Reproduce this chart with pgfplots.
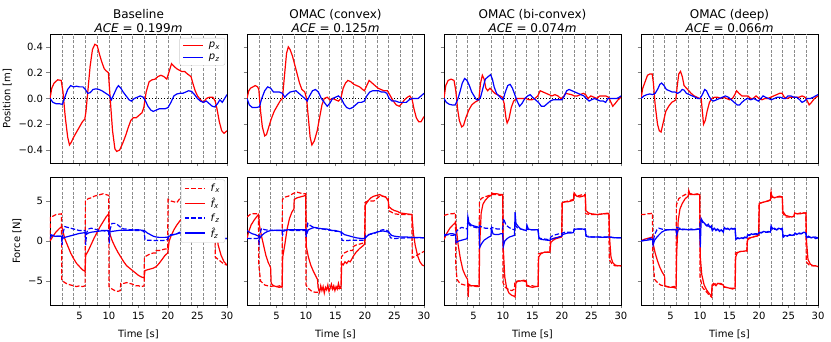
\documentclass[border=0pt]{standalone}
\usepackage{fontspec}
\setmainfont{DejaVu Sans}
\usepackage{pgfplots}
\pgfplotsset{compat=1.18}

\definecolor{mplred}{rgb}{1,0,0}
\definecolor{mplblue}{rgb}{0,0,1}

\pgfplotsset{
  legend image code/.code={\draw[#1] (0pt,0pt) -- (20pt,0pt);},
  panel/.style={
    scale only axis, width=177pt, xmin=0, xmax=30,
    xtick={5,10,15,20,25,30},
    tick align=outside, xtick pos=bottom, ytick pos=left,
    major tick length=3.5pt,
    tick style={line width=0.6pt},
    axis line style={black, line width=0.6pt},
    extra x ticks={2,4,...,28}, extra x tick labels={},
    extra x tick style={grid=major, major tick length=0pt,
      major grid style={black!45, line width=0.4pt, dash pattern=on 3pt off 1.6pt}},
    ticklabel style={font=\fontsize{10}{12}\selectfont},
    label style={font=\fontsize{10}{12}\selectfont},
    title style={font=\fontsize{12}{14}\selectfont, align=center, yshift=-8pt},
    every axis plot/.append style={line width=1.2pt},
    legend style={draw=black!20, rounded corners=2pt, fill=white,
      font=\fontsize{10}{12}\selectfont, inner xsep=3pt, inner ysep=2pt,
      row sep=1pt, column sep=3pt, cells={anchor=west},
      at={(0.99,0.97)}, anchor=north east},
  },
  pos/.style={panel, height=129pt, ymin=-0.5, ymax=0.5,
    ytick={-0.4,-0.2,0,0.2,0.4}, xticklabels={}},
  frc/.style={panel, height=128pt, ymin=-8, ymax=8, ytick={-5,0,5},
    xticklabels={5,10,15,20,25,30}, xlabel={Time [s]}},
  zl/.style={black, line width=1pt, dash pattern=on 1.2pt off 1.8pt, forget plot},
  fd/.style={dash pattern=on 4.5pt off 2pt},
}

\begin{document}
\begin{tikzpicture}
\useasboundingbox (0,0) rectangle (831pt,342pt);

% ---------------- top row: position ----------------
\begin{axis}[pos, at={(50pt,179pt)}, ylabel={Position [m]},
  yticklabels={−0.4,−0.2,0.0,0.2,0.4},
  title={Baseline\\\textit{ACE} = 0.199\textit{m}}]
\addlegendimage{mplred, line width=1.4pt}
\addlegendimage{mplblue, line width=1.4pt}
\legend{\textit{p}\textsubscript{\textit{x}}, \textit{p}\textsubscript{\textit{z}}}
\addplot[zl] coordinates {(0,0) (30,0)};
\addplot[mplred, forget plot] coordinates {(0,0) (0.3,0.08) (0.7,0.12) (1.3,0.145) (1.9,0.14) (2.2,0.05) (2.6,-0.15) (3.0,-0.3) (3.3,-0.36) (3.6,-0.34) (4.0,-0.3) (4.5,-0.26) (5.0,-0.22) (5.5,-0.18) (5.9,-0.16) (6.1,-0.1) (6.4,0.05) (6.8,0.25) (7.2,0.38) (7.6,0.42) (8.0,0.41) (8.4,0.34) (8.8,0.28) (9.2,0.23) (9.5,0.215) (9.9,0.2) (10.2,0.0) (10.6,-0.25) (11.0,-0.39) (11.3,-0.41) (11.8,-0.4) (12.3,-0.35) (12.8,-0.29) (13.3,-0.22) (13.7,-0.17) (14.1,-0.15) (14.6,-0.15) (15.1,-0.13) (15.6,-0.11) (15.9,-0.07) (16.3,0.05) (16.8,0.13) (17.3,0.145) (17.8,0.15) (18.3,0.17) (18.8,0.18) (19.3,0.17) (19.8,0.15) (20.2,0.21) (20.6,0.27) (21.0,0.25) (21.5,0.23) (21.9,0.22) (22.3,0.21) (22.8,0.21) (23.3,0.19) (23.9,0.17) (24.2,0.12) (24.6,0.06) (25.0,0.02) (25.5,-0.01) (26.0,-0.03) (26.5,0.0) (27.0,0.01) (27.6,0.01) (28.0,-0.02) (28.3,-0.08) (28.7,-0.18) (29.1,-0.25) (29.5,-0.27) (30,-0.25)};
\addplot[mplblue, forget plot] coordinates {(0,0) (0.5,-0.03) (1,-0.04) (1.5,-0.04) (2.1,-0.045) (2.6,0.02) (3.0,0.07) (3.5,0.1) (4.0,0.09) (4.5,0.095) (5.0,0.09) (5.6,0.09) (6.0,0.07) (6.4,0.04) (6.8,0.045) (7.3,0.07) (7.8,0.075) (8.3,0.07) (8.8,0.06) (9.3,0.045) (9.8,0.03) (10.1,0.02) (10.4,-0.01) (10.8,0.03) (11.3,0.08) (11.6,0.1) (12.0,0.08) (12.4,0.05) (12.9,0.02) (13.4,-0.01) (13.8,-0.02) (14.3,0.0) (14.8,0.01) (15.3,0.02) (15.8,0.01) (16.2,-0.02) (16.6,-0.06) (17.1,-0.09) (17.5,-0.1) (18.0,-0.09) (18.5,-0.08) (19.0,-0.08) (19.5,-0.08) (20.0,-0.07) (20.5,-0.03) (21.0,0.02) (21.5,0.035) (22.0,0.04) (22.5,0.04) (23.0,0.05) (23.5,0.06) (24.0,0.055) (24.5,0.03) (25.0,0.0) (25.5,-0.02) (26.0,-0.03) (26.5,-0.02) (27.0,-0.04) (27.5,-0.06) (27.9,-0.065) (28.4,-0.04) (28.8,-0.01) (29.2,-0.03) (29.6,0.0) (30,0.03)};
\end{axis}

\begin{axis}[pos, at={(247pt,179pt)}, yticklabels={},
  title={OMAC (convex)\\\textit{ACE} = 0.125\textit{m}}]
\addplot[zl] coordinates {(0,0) (30,0)};
\addplot[mplred] coordinates {(0,0) (0.3,0.06) (0.6,0.08) (1.0,0.09) (1.4,0.1) (1.8,0.09) (2.0,0.07) (2.3,-0.1) (2.6,-0.22) (3.0,-0.29) (3.3,-0.28) (3.7,-0.22) (4.1,-0.16) (4.6,-0.1) (5.1,-0.06) (5.6,-0.02) (6.0,0.0) (6.3,0.15) (6.7,0.35) (7.0,0.4) (7.3,0.38) (7.7,0.33) (8.1,0.26) (8.5,0.19) (8.9,0.12) (9.3,0.07) (9.8,0.05) (10.1,0.0) (10.4,-0.15) (10.7,-0.3) (11.0,-0.36) (11.4,-0.33) (11.9,-0.25) (12.3,-0.15) (12.7,-0.05) (13.1,0.0) (13.6,0.01) (14.0,-0.01) (14.5,0.0) (15.0,-0.01) (15.5,-0.02) (15.9,0.0) (16.3,0.08) (16.7,0.12) (17.1,0.14) (17.6,0.13) (18.1,0.11) (18.6,0.1) (19.1,0.09) (19.6,0.07) (19.9,0.06) (20.3,0.1) (20.7,0.14) (21.2,0.12) (21.7,0.1) (22.2,0.08) (22.7,0.07) (23.2,0.06) (23.8,0.06) (24.3,0.02) (24.8,-0.02) (25.3,-0.05) (25.8,-0.06) (26.2,-0.04) (26.7,-0.01) (27.2,0.01) (27.6,0.02) (28.0,-0.01) (28.3,-0.08) (28.7,-0.15) (29.1,-0.18) (29.5,-0.18) (30,-0.14)};
\addplot[mplblue] coordinates {(0,0) (0.4,-0.05) (0.9,-0.07) (1.5,-0.07) (2.1,-0.065) (2.5,0.0) (3.0,0.06) (3.5,0.09) (4.0,0.08) (4.5,0.05) (5.0,0.05) (5.5,0.05) (6.0,0.04) (6.4,0.01) (6.8,0.03) (7.3,0.05) (7.8,0.055) (8.3,0.06) (8.8,0.04) (9.3,0.02) (9.8,0.0) (10.2,-0.02) (10.6,0.02) (11.1,0.06) (11.6,0.07) (12.1,0.05) (12.6,0.0) (13.1,-0.03) (13.6,-0.06) (14.0,-0.04) (14.5,0.0) (15.0,0.01) (15.5,0.02) (16.0,0.0) (16.4,-0.04) (16.9,-0.07) (17.4,-0.08) (17.9,-0.07) (18.4,-0.05) (18.9,-0.03) (19.4,-0.03) (19.9,-0.02) (20.3,0.02) (20.8,0.05) (21.3,0.06) (21.8,0.06) (22.3,0.06) (22.8,0.05) (23.3,0.05) (23.7,0.04) (24.1,0.0) (24.6,-0.02) (25.2,-0.02) (25.8,-0.03) (26.4,-0.03) (27.0,-0.03) (27.5,-0.01) (28.0,0.0) (28.5,0.0) (29.0,0.0) (29.5,0.02) (30,0.04)};
\end{axis}

\begin{axis}[pos, at={(444pt,179pt)}, yticklabels={},
  title={OMAC (bi-convex)\\\textit{ACE} = 0.074\textit{m}}]
\addplot[zl] coordinates {(0,0) (30,0)};
\addplot[mplred] coordinates {(0,0) (0.3,0.1) (0.7,0.14) (1.2,0.15) (1.7,0.14) (2.0,0.06) (2.3,-0.08) (2.6,-0.17) (3.0,-0.22) (3.3,-0.21) (3.7,-0.15) (4.2,-0.09) (4.7,-0.05) (5.2,-0.03) (5.6,-0.02) (5.9,-0.01) (6.2,0.12) (6.5,0.18) (6.8,0.15) (7.1,0.08) (7.4,0.06) (7.8,0.08) (8.2,0.06) (8.6,0.04) (9.0,0.03) (9.5,0.02) (9.9,0.01) (10.2,-0.04) (10.5,-0.15) (10.7,-0.19) (11.0,-0.16) (11.4,-0.07) (11.8,-0.02) (12.3,0.0) (12.8,0.0) (13.4,0.0) (13.9,0.0) (14.4,-0.01) (14.9,-0.01) (15.4,0.0) (15.9,0.02) (16.3,0.06) (16.8,0.05) (17.3,0.04) (17.8,0.03) (18.3,0.02) (18.8,0.03) (19.3,0.02) (19.8,0.0) (20.2,0.01) (20.6,0.04) (21.1,0.035) (21.6,0.03) (22.1,0.02) (22.6,0.02) (23.1,0.03) (23.6,0.04) (24.0,0.03) (24.4,0.0) (24.9,0.02) (25.4,0.01) (25.9,0.0) (26.4,0.02) (26.9,0.02) (27.4,0.02) (27.9,0.01) (28.3,-0.03) (28.6,-0.06) (29.0,-0.04) (29.5,-0.01) (30,0.01)};
\addplot[mplblue] coordinates {(0,0) (0.4,-0.03) (0.9,-0.045) (1.4,-0.05) (1.9,-0.05) (2.3,-0.01) (2.7,0.05) (3.1,0.12) (3.5,0.155) (3.9,0.14) (4.3,0.1) (4.7,0.05) (5.1,0.02) (5.5,-0.01) (5.9,-0.01) (6.2,0.01) (6.6,0.08) (7.0,0.15) (7.5,0.17) (7.9,0.185) (8.2,0.15) (8.5,0.09) (8.9,0.04) (9.3,0.02) (9.7,0.0) (10.0,-0.01) (10.4,0.05) (10.8,0.1) (11.2,0.11) (11.6,0.08) (12.0,0.03) (12.4,-0.02) (12.8,-0.06) (13.2,-0.04) (13.7,0.0) (14.2,0.02) (14.6,0.03) (15.0,0.01) (15.5,-0.01) (16.0,-0.03) (16.5,-0.06) (17.0,-0.06) (17.5,-0.04) (18.0,-0.02) (18.5,-0.01) (19.0,-0.01) (19.5,-0.01) (20.0,-0.01) (20.4,0.02) (20.8,0.06) (21.2,0.07) (21.7,0.06) (22.2,0.05) (22.7,0.04) (23.2,0.03) (23.7,0.02) (24.1,0.0) (24.6,-0.02) (25.0,-0.01) (25.5,0.0) (26.0,-0.01) (26.5,-0.02) (27.0,-0.02) (27.4,-0.03) (27.8,0.0) (28.3,0.0) (28.8,0.0) (29.3,0.0) (29.7,0.01) (30,0.02)};
\end{axis}

\begin{axis}[pos, at={(641pt,179pt)}, yticklabels={},
  title={OMAC (deep)\\\textit{ACE} = 0.066\textit{m}}]
\addplot[zl] coordinates {(0,0) (30,0)};
\addplot[mplred] coordinates {(0,0) (0.3,0.08) (0.7,0.13) (1.1,0.18) (1.5,0.19) (1.9,0.19) (2.1,0.12) (2.4,-0.05) (2.8,-0.2) (3.1,-0.25) (3.4,-0.26) (3.8,-0.18) (4.2,-0.1) (4.7,-0.06) (5.2,-0.03) (5.6,-0.02) (5.9,-0.01) (6.1,0.08) (6.4,0.19) (6.7,0.21) (7.0,0.17) (7.3,0.1) (7.7,0.08) (8.1,0.06) (8.5,0.04) (9.0,0.02) (9.5,0.01) (9.9,0.0) (10.2,0.0) (10.4,-0.1) (10.6,-0.2) (10.9,-0.17) (11.2,-0.1) (11.6,-0.03) (12.0,0.0) (12.5,0.01) (13.0,0.01) (13.5,0.0) (14.0,0.01) (14.5,0.0) (15.0,-0.01) (15.5,0.0) (15.9,0.03) (16.2,0.06) (16.6,0.04) (17.1,0.02) (17.6,0.02) (18.1,0.02) (18.6,0.0) (19.0,0.0) (19.5,0.02) (20.0,0.0) (20.5,-0.01) (21.0,0.0) (21.5,0.0) (22.0,0.01) (22.5,0.02) (23.0,0.03) (23.5,0.04) (23.9,0.04) (24.3,0.01) (24.8,0.0) (25.3,0.01) (25.8,0.01) (26.3,0.01) (26.8,0.01) (27.3,0.02) (27.8,0.01) (28.2,-0.02) (28.5,-0.05) (28.9,-0.03) (29.4,0.0) (30,0.02)};
\addplot[mplblue] coordinates {(0,0) (0.5,0.02) (1.0,0.03) (1.5,0.035) (2.0,0.03) (2.4,0.04) (2.8,0.07) (3.2,0.11) (3.5,0.12) (3.9,0.1) (4.3,0.07) (4.8,0.06) (5.3,0.05) (5.8,0.05) (6.2,0.04) (6.6,0.05) (7.0,0.07) (7.3,0.065) (7.7,0.04) (8.2,0.03) (8.7,0.02) (9.2,0.01) (9.6,0.0) (10.0,0.0) (10.4,0.03) (10.8,0.07) (11.1,0.06) (11.5,0.02) (11.9,-0.01) (12.3,-0.02) (12.8,-0.01) (13.3,0.0) (13.8,0.01) (14.3,0.02) (14.8,0.01) (15.3,-0.01) (15.8,-0.03) (16.3,-0.05) (16.7,-0.05) (17.1,-0.03) (17.6,-0.01) (18.1,0.0) (18.6,-0.01) (19.1,0.0) (19.5,-0.01) (19.9,-0.02) (20.3,0.0) (20.7,0.02) (21.1,0.01) (21.6,0.0) (22.1,-0.01) (22.6,0.0) (23.1,0.01) (23.6,0.01) (24.1,0.0) (24.5,0.0) (24.9,0.02) (25.4,0.02) (25.9,0.01) (26.4,0.01) (26.9,-0.01) (27.3,-0.03) (27.7,-0.02) (28.2,0.0) (28.7,0.0) (29.2,0.01) (29.6,0.02) (30,0.03)};
\end{axis}

% ---------------- bottom row: force ----------------
\begin{axis}[frc, at={(50pt,37pt)}, ylabel={Force [N]},
  yticklabels={−5,0,5}, legend style={at={(0.99,0.98)}}]
\addlegendimage{mplred, line width=1.4pt, fd}
\addlegendimage{mplred, line width=1.4pt}
\addlegendimage{mplblue, line width=1.4pt, fd}
\addlegendimage{mplblue, line width=1.4pt}
\legend{\textit{f}\textsubscript{\textit{x}}, \textit{\^{f}}\textsubscript{\textit{x}}, \textit{f}\textsubscript{\textit{z}}, \textit{\^{f}}\textsubscript{\textit{z}}}
\addplot[mplred, fd, forget plot] coordinates {(0,0) (0.05,3.0) (0.5,3.1) (1.0,3.3) (1.5,3.35) (1.95,3.4) (2.0,-4.9) (2.5,-5.2) (3.0,-5.4) (3.5,-5.5) (4.0,-5.6) (4.5,-5.7) (5.0,-5.6) (5.5,-5.7) (5.95,-5.6) (6.0,5.0) (6.5,5.3) (7.0,5.4) (7.5,5.6) (8.0,5.7) (8.5,5.8) (9.0,5.9) (9.5,5.8) (9.95,5.7) (10.0,-5.7) (10.5,-6.0) (11.0,-6.2) (11.5,-6.3) (11.9,-6.2) (12.0,-5.3) (12.5,-5.3) (13.0,-5.2) (13.5,-5.3) (14.0,-5.4) (14.5,-5.6) (15.0,-5.6) (15.5,-5.7) (15.95,-5.6) (16.0,-2.0) (16.5,-1.8) (17.0,-1.6) (17.5,-1.5) (17.95,-1.5) (18.0,-1.2) (18.5,-1.2) (19.0,-1.1) (19.5,-1.0) (19.95,-1.0) (20.0,5.2) (20.5,5.0) (21.0,4.9) (21.5,4.8) (22.0,5.3) (22.5,5.4) (23.0,5.5) (23.5,5.4) (24.0,5.4) (24.05,3.5) (25.0,3.6) (26.0,3.5) (27.0,3.5) (27.95,3.4) (28.0,-2.0) (28.5,-2.3) (29.0,-2.6) (29.5,-2.9) (30,-3.0)};
\addplot[mplred, forget plot] coordinates {(0,0) (0.5,0.6) (1.0,1.1) (1.5,1.5) (2.0,1.8) (2.5,0.3) (3.0,-0.6) (3.5,-1.5) (4.0,-2.2) (4.5,-2.8) (5.0,-3.2) (5.5,-3.6) (5.95,-3.8) (6.05,-1.8) (6.5,-1.2) (7.0,-0.4) (7.5,0.4) (8.0,1.1) (8.5,1.8) (9.0,2.4) (9.5,3.0) (9.95,3.4) (10.1,1.0) (10.5,0.1) (11.0,-0.7) (11.5,-1.4) (12.0,-2.0) (12.5,-2.6) (13.0,-3.1) (13.5,-3.4) (14.0,-3.7) (14.5,-4.0) (15.0,-4.3) (15.5,-4.5) (15.95,-4.6) (16.1,-3.7) (16.5,-3.6) (17.0,-3.5) (17.5,-3.4) (18.0,-3.2) (18.5,-2.8) (19.0,-2.3) (19.5,-1.8) (19.95,-1.5) (20.2,0.0) (20.5,0.6) (21.0,1.4) (21.5,2.0) (22.0,2.5) (22.5,2.9) (23.0,3.2) (23.5,3.4) (24.0,3.5) (25.0,3.5) (26.0,3.5) (27.0,3.5) (27.95,3.4) (28.2,1.5) (28.5,-0.5) (29.0,-1.8) (29.5,-2.6) (30,-3.0)};
\addplot[mplblue, fd, forget plot] coordinates {(0,0.8) (0.5,0.7) (1.0,0.6) (1.5,0.6) (1.95,0.6) (2.05,-0.5) (2.2,1.0) (2.5,1.8) (3.0,1.7) (3.5,1.6) (4.0,1.5) (4.5,1.4) (5.0,1.3) (5.5,1.3) (5.95,1.3) (6.05,-0.5) (6.2,1.0) (6.5,1.5) (7.0,1.6) (7.5,1.5) (8.0,1.4) (8.5,1.3) (9.0,1.3) (9.5,1.2) (9.95,1.2) (10.05,-0.3) (10.2,1.5) (10.5,2.2) (11.0,2.2) (11.5,2.0) (12.0,1.7) (12.5,1.5) (13.0,1.5) (13.5,1.4) (14.0,1.4) (14.5,1.3) (15.0,1.3) (15.5,1.3) (15.95,1.2) (16.1,0.2) (16.5,0.1) (17.0,0.1) (17.5,0.05) (18.0,0.05) (18.5,0.05) (19.0,0.05) (19.5,0.1) (19.95,0.2) (20.2,0.7) (20.5,0.8) (21.0,0.8) (21.5,0.9) (22.0,1.1) (22.5,1.2) (23.0,1.2) (23.5,1.2) (24.0,1.1) (24.2,0.6) (25.0,0.6) (26.0,0.5) (27.0,0.5) (28.0,0.4) (28.2,0.3) (29.0,0.3) (30,0.3)};
\addplot[mplblue, forget plot] coordinates {(0,0.3) (0.3,0.7) (0.8,0.6) (1.5,0.6) (1.95,0.6) (2.05,0.3) (2.5,0.45) (3.0,0.55) (3.5,0.65) (4.0,0.75) (4.5,0.85) (5.0,0.95) (5.5,1.0) (5.95,1.05) (6.05,0.8) (6.5,1.0) (7.0,1.1) (7.5,1.15) (8.0,1.2) (8.5,1.25) (9.0,1.3) (9.5,1.3) (9.95,1.3) (10.05,1.1) (10.5,1.2) (11.0,1.25) (11.5,1.3) (12.0,1.35) (12.5,1.35) (13.0,1.35) (13.5,1.35) (14.0,1.35) (14.5,1.4) (15.0,1.4) (15.5,1.35) (16.0,1.3) (16.5,1.0) (17.0,0.8) (17.5,0.6) (18.0,0.5) (18.5,0.45) (19.0,0.45) (19.5,0.45) (20.0,0.5) (20.5,0.7) (21.0,0.8) (21.5,0.9) (22.0,1.0) (22.5,1.05) (23.0,1.05) (23.5,1.05) (24.0,1.0) (24.5,0.8) (25.0,0.75) (26.0,0.6) (27.0,0.5) (28.0,0.45) (29.0,0.35) (30,0.3)};
\end{axis}

\begin{axis}[frc, at={(247pt,37pt)}, yticklabels={}]
\addplot[mplred, fd] coordinates {(0,3.0) (0.5,3.3) (1.0,3.4) (1.5,3.4) (1.95,3.4) (2.0,-3.0) (2.3,-5.0) (3.0,-5.5) (3.5,-5.6) (4.0,-5.7) (4.5,-5.6) (5.0,-5.7) (5.5,-5.8) (5.95,-5.8) (6.0,5.2) (6.5,5.5) (7.0,5.6) (7.5,5.8) (8.0,6.0) (8.5,6.1) (9.0,6.0) (9.5,5.9) (9.95,5.9) (10.0,-5.5) (10.5,-6.0) (11.0,-6.3) (11.5,-6.4) (12.0,-6.4) (12.5,-6.0) (13.0,-6.0) (14.0,-5.9) (15.0,-6.0) (15.95,-5.9) (16.0,-2.0) (16.5,-1.5) (17.0,-1.3) (17.5,-1.2) (17.95,-1.2) (18.0,-0.7) (18.5,-0.5) (19.0,-0.4) (19.5,-0.3) (19.95,-0.2) (20.0,4.8) (20.5,5.0) (21.0,5.0) (21.5,5.0) (22.0,5.3) (22.5,5.6) (23.0,5.6) (23.5,5.5) (23.95,5.3) (24.0,3.8) (24.5,3.6) (25.0,3.4) (26.0,3.3) (27.0,3.3) (27.95,3.3) (28.0,-2.1) (28.5,-1.9) (29.0,-1.7) (29.5,-1.5) (30,-1.3)};
\addplot[mplred] coordinates {(0,0.3) (0.3,1.2) (0.7,2.0) (1.2,2.6) (1.6,3.0) (1.95,3.3) (2.1,2.0) (2.4,0.8) (2.8,-0.5) (3.2,-1.8) (3.6,-2.7) (4.0,-3.3) (4.1,-5.3) (4.5,-5.6) (5.0,-5.7) (5.5,-5.6) (5.95,-5.8) (6.05,-2.0) (6.4,-0.5) (6.8,1.5) (7.2,2.8) (7.6,3.6) (7.95,4.0) (8.0,5.2) (8.5,5.4) (9.0,5.5) (9.5,5.6) (9.95,5.7) (10.05,-0.7) (10.4,-2.0) (10.8,-3.0) (11.2,-3.7) (11.6,-4.3) (11.95,-4.8) (12.05,-5.8) (12.3,-6.4) (12.5,-5.6) (12.7,-6.2) (12.9,-5.7) (13.1,-6.5) (13.3,-5.8) (13.5,-6.1) (13.7,-5.5) (13.9,-6.3) (14.1,-5.9) (14.3,-5.4) (14.5,-6.0) (14.7,-5.6) (14.9,-6.2) (15.1,-5.7) (15.3,-6.0) (15.5,-5.3) (15.7,-5.9) (15.95,-5.6) (16.05,-2.8) (16.3,-3.0) (16.6,-2.6) (16.9,-2.8) (17.2,-2.5) (17.5,-2.6) (17.8,-2.2) (18.1,-1.8) (18.5,-1.4) (19.0,-1.0) (19.5,-0.7) (19.95,-0.4) (20.05,4.5) (20.5,5.0) (21.0,5.4) (21.5,5.6) (22.0,5.7) (22.5,5.8) (23.0,5.6) (23.5,5.5) (23.95,5.0) (24.05,4.3) (24.5,4.0) (25.0,3.8) (25.5,3.7) (26.0,3.5) (27.0,3.4) (27.95,3.3) (28.2,1.0) (28.5,-0.5) (28.9,-1.8) (29.3,-2.6) (29.7,-3.0) (30,-3.1)};
\addplot[mplblue, fd] coordinates {(0,0.3) (0.5,0.3) (1.0,0.3) (1.5,0.3) (1.95,0.35) (2.05,-0.2) (2.2,1.0) (2.5,1.6) (3.0,1.4) (4.0,1.35) (5.0,1.3) (5.95,1.3) (6.05,0.8) (6.3,1.3) (7.0,1.35) (8.0,1.3) (9.0,1.3) (9.95,1.3) (10.05,0.5) (10.3,2.2) (10.8,1.9) (11.3,1.7) (12.0,1.6) (12.5,1.5) (13.0,1.5) (13.5,1.4) (14.0,1.35) (14.5,1.3) (15.0,1.2) (15.5,1.2) (15.95,1.2) (16.1,0.1) (16.5,0.05) (17.0,0.05) (17.5,0.1) (17.95,0.1) (18.05,0.1) (19.0,0.1) (19.95,0.1) (20.1,0.7) (20.5,0.8) (21.0,0.85) (21.5,0.9) (22.0,1.1) (22.5,1.3) (23.0,1.4) (23.5,1.4) (24.0,1.2) (24.3,0.4) (25.0,0.3) (26.0,0.35) (27.0,0.4) (28.0,0.4) (29.0,0.4) (30,0.4)};
\addplot[mplblue] coordinates {(0,1.3) (0.4,1.1) (0.9,0.9) (1.4,0.8) (1.95,0.6) (2.1,0.3) (2.5,0.7) (3.0,1.0) (3.5,1.2) (4.0,1.3) (5.0,1.35) (6.0,1.35) (7.0,1.4) (8.0,1.4) (9.0,1.4) (9.95,1.4) (10.05,0.8) (10.4,1.4) (11.0,1.6) (11.5,1.7) (12.0,1.6) (12.5,1.55) (13.0,1.5) (13.5,1.5) (14.0,1.4) (14.5,1.3) (15.0,1.3) (15.5,1.2) (16.0,1.1) (16.5,0.8) (17.0,0.7) (17.5,0.6) (18.0,0.5) (18.5,0.4) (19.0,0.35) (19.5,0.3) (20.0,0.35) (20.5,0.7) (21.0,0.9) (21.5,1.0) (22.0,1.1) (22.5,1.2) (23.0,1.25) (23.5,1.2) (24.0,1.1) (24.5,0.7) (25.0,0.6) (26.0,0.5) (27.0,0.5) (28.0,0.45) (29.0,0.45) (30,0.4)};
\end{axis}

\begin{axis}[frc, at={(444pt,37pt)}, yticklabels={}]
\addplot[mplred, fd] coordinates {(0,3.2) (0.5,3.3) (1.0,3.4) (1.5,3.4) (1.95,3.5) (2.0,-3.0) (2.2,-4.8) (2.6,-5.2) (3.0,-5.4) (3.5,-5.5) (4.0,-5.5) (4.5,-5.6) (5.0,-5.6) (5.5,-5.6) (5.95,-5.6) (6.0,4.8) (6.3,5.3) (6.8,5.5) (7.3,5.6) (8.0,5.8) (8.5,5.8) (9.0,5.8) (9.5,5.7) (9.95,5.8) (10.0,-5.2) (10.4,-5.8) (11.0,-6.1) (11.5,-6.2) (11.95,-6.0) (12.0,-5.1) (12.5,-5.0) (13.0,-5.0) (13.5,-5.0) (13.95,-5.1) (14.0,-5.6) (14.5,-5.6) (15.0,-5.6) (15.5,-5.7) (15.95,-5.7) (16.0,-1.6) (16.5,-1.5) (17.0,-1.4) (17.5,-1.4) (17.95,-1.3) (18.0,0.2) (18.5,0.3) (19.0,0.4) (19.5,0.5) (19.95,0.6) (20.0,4.8) (20.5,4.9) (21.0,5.0) (21.5,5.1) (21.95,5.2) (22.0,5.8) (22.5,5.6) (23.0,5.7) (23.5,5.8) (23.95,5.8) (24.0,3.4) (25.0,3.3) (26.0,3.3) (27.0,3.4) (27.95,3.5) (28.0,-2.3) (28.5,-2.9) (29.0,-3.1) (29.5,-3.1) (30,-3.1)};
\addplot[mplred] coordinates {(0,0.2) (0.5,1.0) (1.0,1.6) (1.5,2.0) (1.95,2.3) (2.1,1.5) (2.4,-0.5) (2.8,-2.3) (3.2,-3.6) (3.6,-4.3) (4.0,-4.8) (4.1,-7.0) (4.2,-5.4) (4.6,-5.6) (5.0,-5.6) (5.5,-5.7) (5.95,-5.7) (6.05,-0.5) (6.3,3.5) (6.6,4.6) (7.0,5.1) (7.5,5.5) (8.0,5.7) (8.1,6.0) (8.5,5.9) (9.0,5.9) (9.5,5.8) (9.95,5.8) (10.05,-1.0) (10.3,-4.5) (10.6,-5.8) (11.0,-6.5) (11.5,-6.8) (11.9,-6.9) (12.05,-7.0) (12.2,-5.2) (12.6,-5.0) (13.0,-5.0) (13.5,-4.9) (13.95,-5.0) (14.05,-5.6) (14.5,-5.7) (15.0,-5.8) (15.5,-5.7) (15.95,-5.7) (16.05,-2.0) (16.4,-1.6) (17.0,-1.4) (17.5,-1.4) (17.95,-1.4) (18.1,-0.2) (18.5,0.1) (19.0,0.3) (19.5,0.4) (19.95,0.5) (20.05,4.8) (20.5,4.9) (21.0,4.9) (21.5,5.0) (21.95,5.1) (22.05,6.0) (22.5,5.6) (23.0,5.5) (23.5,5.6) (23.95,5.7) (24.05,3.8) (24.5,3.5) (25.0,3.4) (26.0,3.3) (27.0,3.4) (27.95,3.4) (28.1,0.0) (28.3,-2.0) (28.6,-2.7) (29.0,-3.0) (29.5,-3.1) (30,-3.1)};
\addplot[mplblue, fd] coordinates {(0,0.8) (0.5,0.8) (1.0,0.7) (1.5,0.7) (1.95,0.8) (2.1,1.2) (2.5,1.5) (3.0,1.7) (3.5,1.6) (3.95,1.5) (4.05,3.0) (4.3,2.0) (4.8,1.8) (5.3,1.7) (5.95,1.6) (6.05,1.9) (6.5,1.7) (7.0,1.6) (7.5,1.6) (7.95,1.5) (8.1,1.7) (8.5,1.6) (9.0,1.5) (9.5,1.5) (9.95,1.5) (10.1,2.8) (10.5,2.0) (11.0,1.7) (11.5,1.5) (11.95,1.4) (12.05,2.0) (12.5,1.6) (13.0,1.5) (13.5,1.4) (13.95,1.3) (14.05,1.5) (14.5,1.4) (15.0,1.4) (15.5,1.4) (15.95,1.3) (16.1,0.4) (16.5,0.3) (17.0,0.25) (17.5,0.2) (17.95,0.2) (18.1,0.5) (18.5,0.7) (19.0,0.8) (19.5,0.9) (19.95,0.9) (20.1,1.0) (20.5,1.1) (21.0,1.1) (21.5,1.1) (21.95,1.1) (22.05,1.5) (22.5,1.5) (23.0,1.5) (23.5,1.5) (23.95,1.5) (24.1,0.6) (24.5,0.6) (25.0,0.5) (26.0,0.5) (27.0,0.5) (28.0,0.5) (29.0,0.4) (30,0.4)};
\addplot[mplblue] coordinates {(0,0.6) (0.5,0.8) (1.0,0.9) (1.5,0.9) (1.95,0.8) (2.05,-0.2) (2.5,0.0) (3.0,0.1) (3.5,0.2) (3.95,0.3) (4.05,3.0) (4.2,2.3) (4.6,2.0) (5.0,1.9) (5.5,1.8) (5.95,1.7) (6.05,-0.8) (6.4,-0.3) (6.8,0.1) (7.2,0.3) (7.6,0.5) (7.95,0.6) (8.05,1.6) (8.3,0.9) (8.7,0.8) (9.2,0.8) (9.6,0.9) (9.95,0.9) (10.05,-0.7) (10.3,0.0) (10.7,0.3) (11.1,0.5) (11.5,0.6) (11.95,0.7) (12.05,3.6) (12.2,2.2) (12.6,1.8) (13.0,1.5) (13.5,1.4) (13.95,1.3) (14.05,2.0) (14.3,1.5) (14.8,1.4) (15.3,1.4) (15.95,1.4) (16.1,0.3) (16.5,0.2) (17.0,0.15) (17.5,0.1) (17.95,0.1) (18.1,0.2) (18.5,0.3) (19.0,0.4) (19.5,0.5) (19.95,0.6) (20.1,0.8) (20.5,0.9) (21.0,1.0) (21.5,1.0) (21.95,1.05) (22.05,1.4) (22.5,1.5) (23.0,1.5) (23.5,1.5) (23.95,1.4) (24.1,0.6) (24.5,0.5) (25.0,0.5) (26.0,0.5) (27.0,0.45) (28.0,0.5) (29.0,0.4) (30,0.4)};
\end{axis}

\begin{axis}[frc, at={(641pt,37pt)}, yticklabels={}]
\addplot[mplred, fd] coordinates {(0,3.3) (0.5,3.3) (1.0,3.4) (1.5,3.4) (1.95,3.5) (2.0,-2.0) (2.3,-4.8) (2.8,-5.2) (3.3,-5.5) (3.8,-5.6) (4.3,-5.7) (5.0,-5.8) (5.5,-5.7) (5.95,-5.7) (6.0,4.5) (6.4,5.3) (7.0,5.6) (7.5,5.8) (8.0,6.0) (8.5,5.9) (9.0,5.8) (9.5,5.9) (9.95,5.8) (10.0,-4.5) (10.4,-5.8) (11.0,-6.3) (11.5,-6.7) (11.95,-7.0) (12.05,-5.6) (12.5,-5.4) (13.0,-5.3) (13.5,-5.3) (13.95,-5.5) (14.05,-5.7) (14.5,-5.8) (15.0,-5.9) (15.5,-5.9) (15.95,-5.9) (16.0,-1.5) (16.5,-1.4) (17.0,-1.3) (17.5,-1.3) (17.95,-1.3) (18.0,0.3) (18.5,0.4) (19.0,0.5) (19.5,0.6) (19.95,0.6) (20.0,4.7) (20.5,4.8) (21.0,4.9) (21.5,5.0) (21.95,5.2) (22.0,5.9) (22.3,5.5) (22.8,5.4) (23.3,5.5) (23.95,5.5) (24.0,3.5) (24.5,3.0) (25.0,3.0) (25.5,3.0) (25.95,3.1) (26.0,3.4) (26.5,3.4) (27.0,3.5) (27.5,3.5) (27.95,3.5) (28.0,-2.6) (28.5,-3.0) (29.0,-3.1) (29.5,-3.1) (30,-3.2)};
\addplot[mplred] coordinates {(0,0.0) (0.5,0.2) (1.0,0.3) (1.5,0.4) (1.95,0.5) (2.1,-0.5) (2.4,-1.5) (2.8,-2.5) (3.2,-3.3) (3.6,-3.9) (4.0,-4.4) (4.05,-5.6) (4.5,-5.7) (5.0,-5.8) (5.5,-5.8) (5.95,-5.9) (6.05,-1.5) (6.3,2.5) (6.6,4.0) (7.0,4.7) (7.5,5.3) (8.0,5.6) (8.1,6.3) (8.3,5.8) (8.8,5.8) (9.3,5.8) (9.95,5.8) (10.05,-2.0) (10.3,-4.2) (10.7,-5.5) (11.1,-6.1) (11.5,-6.5) (11.95,-6.9) (12.05,-5.5) (12.3,-5.3) (12.7,-5.6) (13.0,-5.3) (13.5,-5.4) (13.95,-5.5) (14.05,-5.8) (14.5,-5.8) (15.0,-5.9) (15.5,-6.0) (15.95,-5.9) (16.05,-2.0) (16.3,-1.5) (16.8,-1.3) (17.3,-1.3) (17.95,-1.2) (18.05,0.1) (18.5,0.4) (19.0,0.5) (19.5,0.6) (19.95,0.7) (20.05,4.7) (20.5,4.8) (21.0,4.9) (21.5,5.0) (21.95,5.1) (22.05,6.1) (22.2,5.5) (22.6,5.4) (23.0,5.5) (23.5,5.6) (23.95,5.5) (24.05,3.7) (24.5,3.2) (25.0,3.1) (25.5,3.0) (25.95,3.1) (26.05,3.5) (26.5,3.4) (27.0,3.4) (27.5,3.5) (27.95,3.5) (28.05,0.0) (28.3,-2.3) (28.7,-2.9) (29.2,-3.1) (29.6,-3.1) (30,-3.2)};
\addplot[mplblue, fd] coordinates {(0,0.0) (0.5,0.1) (1.0,0.2) (1.5,0.3) (1.95,0.4) (2.05,-0.2) (2.3,0.8) (2.7,1.4) (3.0,1.6) (3.5,1.5) (4.0,1.4) (5.0,1.4) (5.95,1.4) (6.05,1.7) (6.5,1.6) (7.0,1.5) (8.0,1.4) (9.0,1.4) (9.95,1.5) (10.05,2.6) (10.5,2.3) (11.0,2.0) (11.5,1.8) (11.95,1.7) (12.05,1.4) (12.5,1.5) (13.0,1.4) (13.5,1.4) (13.95,1.2) (14.05,1.6) (14.5,1.5) (15.0,1.5) (15.5,1.5) (15.95,1.5) (16.05,0.3) (16.5,0.3) (17.0,0.35) (17.5,0.4) (17.95,0.4) (18.05,0.7) (18.5,0.8) (19.0,0.85) (19.5,0.9) (19.95,0.9) (20.05,1.0) (20.5,1.1) (21.0,1.1) (21.5,1.1) (21.95,1.2) (22.05,1.7) (22.5,1.5) (23.0,1.4) (23.5,1.5) (23.95,1.4) (24.05,0.5) (24.5,0.6) (25.0,0.7) (25.5,0.7) (25.95,0.75) (26.05,0.9) (26.5,0.9) (27.0,0.9) (27.5,1.0) (27.95,0.9) (28.05,0.4) (28.5,0.5) (29.0,0.4) (29.5,0.5) (30,0.4)};
\addplot[mplblue] coordinates {(0,0.0) (0.5,0.05) (1.0,0.1) (1.5,0.15) (1.95,0.2) (2.05,-0.5) (2.3,0.1) (2.7,0.5) (3.1,0.8) (3.5,1.1) (4.0,1.3) (4.5,1.4) (5.0,1.4) (5.5,1.45) (5.95,1.4) (6.05,0.8) (6.3,1.4) (6.7,1.5) (7.0,1.4) (7.5,1.45) (8.0,1.4) (8.5,1.5) (9.0,1.4) (9.5,1.5) (9.95,1.5) (10.05,-0.8) (10.2,2.8) (10.5,2.4) (10.8,2.2) (11.1,1.9) (11.4,2.1) (11.7,1.7) (11.95,1.9) (12.1,1.3) (12.4,1.6) (12.7,1.3) (13.0,1.5) (13.3,1.2) (13.6,1.4) (13.95,1.1) (14.1,1.7) (14.4,1.5) (14.7,1.6) (15.0,1.4) (15.3,1.6) (15.6,1.5) (15.95,1.6) (16.1,0.2) (16.4,0.4) (16.7,0.3) (17.0,0.4) (17.3,0.3) (17.6,0.5) (17.95,0.4) (18.1,0.8) (18.4,0.7) (18.7,0.9) (19.0,0.8) (19.4,0.9) (19.7,0.8) (19.95,1.0) (20.1,1.1) (20.4,1.0) (20.8,1.2) (21.2,1.1) (21.6,1.2) (21.95,1.1) (22.05,1.9) (22.3,1.5) (22.6,1.6) (23.0,1.4) (23.3,1.6) (23.7,1.5) (23.95,1.6) (24.1,0.5) (24.4,0.7) (24.8,0.6) (25.2,0.8) (25.6,0.7) (25.95,0.8) (26.1,1.0) (26.4,0.8) (26.8,1.0) (27.2,0.9) (27.6,1.1) (27.95,1.0) (28.1,0.4) (28.4,0.6) (28.8,0.4) (29.2,0.5) (29.6,0.3) (30,0.4)};
\end{axis}
\end{tikzpicture}
\end{document}
